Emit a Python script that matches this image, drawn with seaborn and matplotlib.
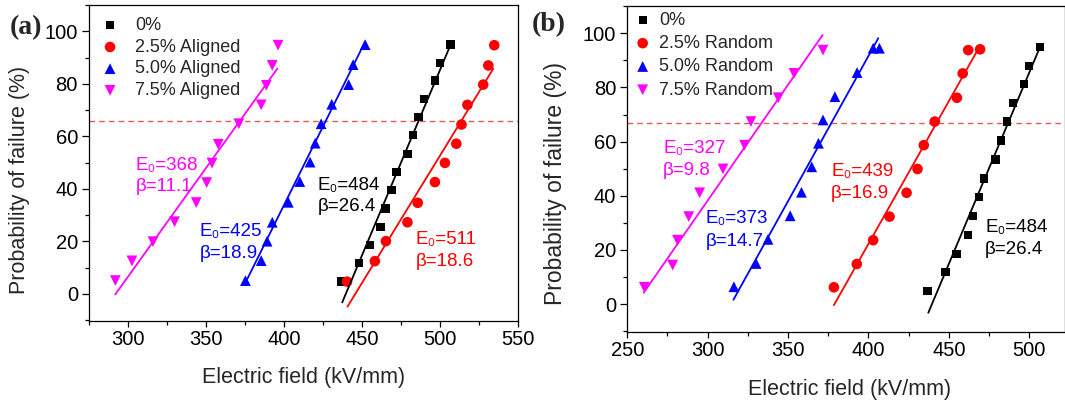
# -*- coding: utf-8 -*-
"""
Weibull breakdown plots: (a) aligned fillers, (b) random fillers
"""
import matplotlib
matplotlib.use('Agg')
import matplotlib.pyplot as plt
import seaborn as sns
from matplotlib.ticker import MultipleLocator

# ---------------- data ----------------
# shared 0% reference sample
ref_x = [436.8, 447.8, 454.8, 461.8, 465.0, 468.8, 472.0, 479.0, 482.6, 486.0, 489.7, 496.6, 500.0, 506.6]
ref_y = [4.8, 11.8, 18.6, 25.5, 32.5, 39.5, 46.4, 53.4, 60.4, 67.4, 74.2, 81.2, 88.0, 95.0]
ref_fit_x = [437.2, 506.5]
ref_fit_y = [-3.2, 94.7]

# (a) aligned
al25_x = [440.3, 458.1, 465.2, 479.0, 485.6, 496.6, 503.0, 510.3, 513.6, 517.4, 527.5, 530.8, 534.6]
al25_y = [4.7, 12.5, 20.1, 27.3, 34.7, 42.6, 49.9, 57.2, 64.5, 72.0, 79.7, 87.0, 94.7]
al25_fit_x = [440.6, 534.0]
al25_fit_y = [-4.8, 85.8]

al50_x = [375.2, 385.3, 389.1, 392.4, 402.7, 410.0, 416.6, 419.9, 423.7, 430.5, 441.3, 444.2, 451.9]
al50_y = [5.1, 12.7, 20.1, 27.3, 34.9, 42.8, 50.2, 57.4, 64.8, 72.2, 79.7, 87.3, 94.9]
al50_fit_x = [374.8, 451.5]
al50_fit_y = [3.8, 95.6]

al75_x = [291.9, 302.5, 316.0, 329.8, 343.7, 350.4, 353.8, 357.8, 371.0, 385.3, 388.6, 392.4, 396.1]
al75_y = [5.1, 12.6, 19.9, 27.5, 34.8, 42.4, 49.8, 57.0, 64.8, 72.0, 79.4, 87.0, 94.7]
al75_fit_x = [291.8, 395.7]
al75_fit_y = [-0.2, 85.8]

# (b) random
rn25_x = [378.5, 392.7, 402.9, 413.1, 423.7, 430.5, 434.4, 441.2, 455.0, 458.6, 462.0, 469.4]
rn25_y = [6.2, 14.8, 23.6, 32.3, 41.1, 49.9, 58.7, 67.4, 76.2, 85.2, 93.8, 94.1]
rn25_fit_x = [378.5, 467.3]
rn25_fit_y = [-0.4, 93.2]

rn50_x = [316.3, 330.1, 337.5, 351.3, 358.3, 364.7, 368.9, 371.7, 379.1, 392.9, 402.9, 406.8]
rn50_y = [6.4, 15.0, 23.9, 32.6, 41.3, 50.7, 59.4, 68.0, 76.6, 85.5, 94.5, 94.5]
rn50_fit_x = [316.0, 406.1]
rn50_fit_y = [1.6, 98.2]

rn75_x = [260.6, 278.2, 281.2, 288.2, 295.0, 309.5, 322.9, 326.9, 343.9, 353.7, 371.7]
rn75_y = [6.2, 14.4, 23.6, 32.3, 41.1, 49.9, 58.7, 67.4, 76.2, 85.2, 93.8]
rn75_fit_x = [260.2, 371.5]
rn75_fit_y = [4.2, 99.4]

# 63.2 %-ish guide line (dashed)
guide_a = 66.0
guide_b = 67.0

labels_a = ['0%', '2.5% Aligned', '5.0% Aligned', '7.5% Aligned']
labels_b = ['0%', '2.5% Random', '5.0% Random', '7.5% Random']

# Weibull parameters written on the plot
weib_a = [('E₀=368', 'β=11.1'), ('E₀=425', 'β=18.9'), ('E₀=484', 'β=26.4'), ('E₀=511', 'β=18.6')]
weib_b = [('E₀=327', 'β=9.8'), ('E₀=373', 'β=14.7'), ('E₀=439', 'β=16.9'), ('E₀=484', 'β=26.4')]

BLACK, RED, BLUE, MAG = '#000000', '#ff0000', '#0000ff', '#ff00ff'
FONTS = ['Liberation Sans', 'DejaVu Sans']

sns.set_style('ticks')
plt.rcParams['font.family'] = FONTS
plt.rcParams['axes.linewidth'] = 0.9


def draw_series(ax, x, y, fx, fy, marker, color, size, label):
    sns.scatterplot(x=x, y=y, marker=marker, color=color, s=size,
                    edgecolor='none', linewidth=0, ax=ax, label=label, zorder=3)
    handle = ax.collections[-1]
    sns.lineplot(x=fx, y=fy, color=color, lw=1.3, ax=ax, sort=False, zorder=4)
    return handle


def style_axes(ax, xlim, ylim, xmaj, ylabel_size):
    ax.set_xlim(*xlim)
    ax.set_ylim(*ylim)
    ax.xaxis.set_major_locator(MultipleLocator(xmaj))
    ax.xaxis.set_minor_locator(MultipleLocator(xmaj / 2))
    ax.yaxis.set_major_locator(MultipleLocator(20))
    ax.yaxis.set_minor_locator(MultipleLocator(10))
    ax.tick_params(axis='both', which='both', direction='out', top=False, right=False,
                   labelsize=14.5, colors='black')
    ax.tick_params(axis='x', which='major', length=4, width=0.9, pad=2.5)
    ax.tick_params(axis='y', which='major', length=5, width=0.9, pad=3)
    ax.tick_params(axis='both', which='minor', length=3, width=0.9)
    for sp in ax.spines.values():
        sp.set_visible(True)
        sp.set_color('black')
    ax.set_xlabel('Electric field (kV/mm)', fontsize=15.5)
    ax.set_ylabel('Probability of failure (%)', fontsize=ylabel_size)


def put_notes(ax, notes, xs, ys, colors):
    for (l1, l2), x, y, c in zip(notes, xs, ys, colors):
        ax.text(x, y + 4.1, l1, color=c, fontsize=13.5, ha='left', va='center_baseline')
        ax.text(x, y - 4.1, l2, color=c, fontsize=13.5, ha='left', va='center_baseline')


fig = plt.figure(figsize=(10.65, 4.05), dpi=100)
ax_a = fig.add_axes([89 / 1065, (405 - 321.3) / 405, (518.3 - 89) / 1065, (321.3 - 5) / 405])
ax_b = fig.add_axes([627.3 / 1065, (405 - 331.7) / 405, (1064.5 - 627.3) / 1065, (331.7 - 5.7) / 405])

# ---- panel (a) ----
ax = ax_a
ax.axhline(guide_a, color='#e05a5a', ls=(0, (4, 3)), lw=1.0, zorder=2)
h = [draw_series(ax, ref_x, ref_y, ref_fit_x, ref_fit_y, 's', BLACK, 36, labels_a[0]),
     draw_series(ax, al25_x, al25_y, al25_fit_x, al25_fit_y, 'o', RED, 58, labels_a[1]),
     draw_series(ax, al50_x, al50_y, al50_fit_x, al50_fit_y, '^', BLUE, 60, labels_a[2]),
     draw_series(ax, al75_x, al75_y, al75_fit_x, al75_fit_y, 'v', MAG, 60, labels_a[3])]
style_axes(ax, (275, 550), (-10.4, 110), 50, 15.5)
ax.legend(handles=h, labels=labels_a, loc='upper left', bbox_to_anchor=(0.028, 0.962),
          frameon=False, fontsize=13, handlelength=1.0, handletextpad=0.9,
          labelspacing=0.26, borderpad=0, borderaxespad=0)
put_notes(ax, weib_a, [304.7, 345.7, 421.5, 484.4], [45.7, 20.4, 38.1, 17.3],
          [MAG, BLUE, BLACK, RED])
ax.xaxis.set_label_coords(0.5, -0.146)
ax.yaxis.set_label_coords(-0.137, 0.447)

# ---- panel (b) ----
ax = ax_b
ax.axhline(guide_b, color='#e05a5a', ls=(0, (4, 3)), lw=1.0, zorder=2)
h = [draw_series(ax, ref_x, ref_y, ref_fit_x, ref_fit_y, 's', BLACK, 36, labels_b[0]),
     draw_series(ax, rn25_x, rn25_y, rn25_fit_x, rn25_fit_y, 'o', RED, 58, labels_b[1]),
     draw_series(ax, rn50_x, rn50_y, rn50_fit_x, rn50_fit_y, '^', BLUE, 60, labels_b[2]),
     draw_series(ax, rn75_x, rn75_y, rn75_fit_x, rn75_fit_y, 'v', MAG, 60, labels_b[3])]
style_axes(ax, (250, 521.9), (-10.2, 110.2), 50, 16.5)
ax.legend(handles=h, labels=labels_b, loc='upper left', bbox_to_anchor=(0.0145, 0.982),
          frameon=False, fontsize=13, handlelength=1.0, handletextpad=0.42,
          labelspacing=0.35, borderpad=0, borderaxespad=0)
put_notes(ax, weib_b, [272.3, 298.9, 376.8, 472.6], [54.0, 28.1, 45.5, 24.9],
          [MAG, BLUE, RED, BLACK])
ax.xaxis.set_label_coords(0.508, -0.146)
ax.yaxis.set_label_coords(-0.137, 0.455)

# panel letters
fig.text(10 / 1065, 1 - 28 / 405, '(a)', family='Liberation Serif', fontweight='bold',
         fontsize=20, ha='left', va='center')
fig.text(532 / 1065, 1 - 25 / 405, '(b)', family='Liberation Serif', fontweight='bold',
         fontsize=20, ha='left', va='center')

fig.savefig('out.png', dpi=100, facecolor='white')
